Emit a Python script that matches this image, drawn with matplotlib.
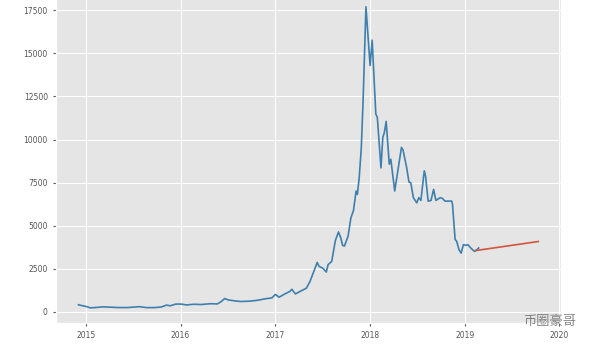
import matplotlib
matplotlib.use('Agg')
import matplotlib.pyplot as plt
import pandas as pd

# weekly-ish price
dates = [
    "2014-12-03", "2014-12-17", "2015-01-04", "2015-01-18", "2015-02-15",
    "2015-03-08", "2015-04-05", "2015-05-03", "2015-06-07", "2015-07-05",
    "2015-07-26", "2015-08-23", "2015-09-20", "2015-10-18", "2015-11-08",
    "2015-11-22", "2015-12-13", "2016-01-03", "2016-01-24", "2016-02-21",
    "2016-03-20", "2016-04-24", "2016-05-22", "2016-06-05", "2016-06-19",
    "2016-07-03", "2016-07-31", "2016-08-21", "2016-09-25", "2016-10-23",
    "2016-11-20", "2016-12-18", "2017-01-01", "2017-01-15", "2017-02-05",
    "2017-02-26", "2017-03-05", "2017-03-19", "2017-04-09", "2017-04-30",
    "2017-05-14", "2017-05-28", "2017-06-11", "2017-06-18", "2017-07-02",
    "2017-07-16", "2017-07-23", "2017-08-06", "2017-08-20", "2017-09-01",
    "2017-09-10", "2017-09-17", "2017-09-24", "2017-10-08", "2017-10-19",
    "2017-10-29", "2017-11-08", "2017-11-13", "2017-11-20", "2017-11-28",
    "2017-12-05", "2017-12-16", "2018-01-01", "2018-01-09", "2018-01-23",
    "2018-01-29", "2018-02-12", "2018-02-19", "2018-02-25", "2018-03-04",
    "2018-03-16", "2018-03-22", "2018-04-06", "2018-05-02", "2018-05-08",
    "2018-05-22", "2018-05-31", "2018-06-07", "2018-06-17", "2018-06-30",
    "2018-07-08", "2018-07-16", "2018-07-29", "2018-08-03", "2018-08-13",
    "2018-08-24", "2018-09-03", "2018-09-12", "2018-09-28", "2018-10-07",
    "2018-10-17", "2018-11-12", "2018-11-15", "2018-11-25", "2018-12-01",
    "2018-12-10", "2018-12-18", "2018-12-27", "2019-01-05", "2019-01-13",
    "2019-01-22", "2019-01-31", "2019-02-08", "2019-02-17", "2019-02-24",
]
prices = [
    400, 350, 290, 220, 250,
    280, 260, 240, 235, 265,
    290, 235, 235, 270, 380,
    340, 440, 440, 390, 430,
    415, 460, 450, 580, 760,
    680, 620, 590, 610, 660,
    740, 800, 1000, 840, 1020,
    1180, 1300, 1030, 1200, 1360,
    1750, 2300, 2860, 2630, 2530,
    2300, 2730, 2920, 4130, 4630,
    4280, 3850, 3810, 4380, 5450,
    5880, 7010, 6810, 7780, 9500,
    12260, 17710, 14300, 15770, 11500,
    11270, 8350, 10120, 10400, 11050,
    8570, 8850, 7010, 9540, 9400,
    8370, 7530, 7490, 6620, 6320,
    6620, 6460, 8180, 7880, 6420,
    6460, 7100, 6460, 6620, 6580,
    6420, 6420, 6230, 4190, 4090,
    3600, 3400, 3890, 3850, 3890,
    3740, 3600, 3500, 3600, 3700,
]

# forecast line
fc_dates = ["2019-02-13", "2019-10-12"]
fc_prices = [3550, 4075]

plt.style.use('ggplot')

fig = plt.figure(figsize=(6, 3.45), dpi=100)
ax = fig.add_axes([0.0925, 0.064, 0.843, 0.96])

ax.plot(pd.to_datetime(dates), prices, color='#3f7fad', linewidth=1.2)
ax.plot(pd.to_datetime(fc_dates), fc_prices, color='#d2553f', linewidth=1.2)

ax.set_yticks([0, 2500, 5000, 7500, 10000, 12500, 15000, 17500])
ax.tick_params(labelsize=5.5, colors='#555555', length=2)

# watermark
fig.text(0.872, 0.058, '币圈豪哥', fontsize=9.5, color='#6f6f6f', alpha=0.85,
         family=['Noto Sans CJK SC', 'DejaVu Sans'])

fig.savefig('out.png', dpi=100)
